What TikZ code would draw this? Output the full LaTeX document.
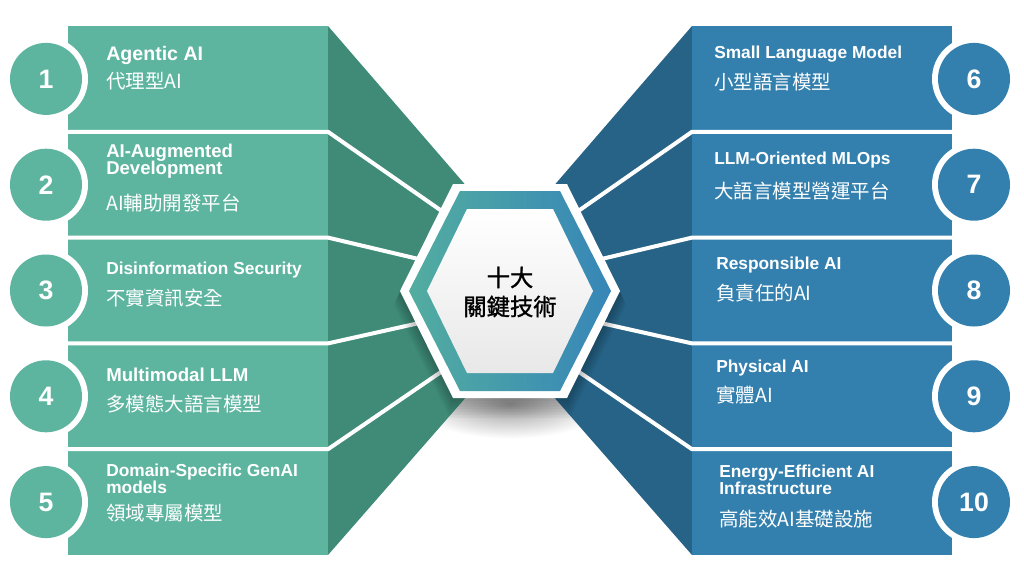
\documentclass[tikz,border=0pt]{standalone}
\usepackage{fontspec}
\setmainfont{Liberation Sans}
\newfontfamily\cjk{Noto Sans CJK TC}
\newfontfamily\cjkhead[FakeBold=1.2]{Noto Sans CJK TC}
\usetikzlibrary{positioning}

\definecolor{TealFront}{HTML}{5DB5A0}
\definecolor{TealSide}{HTML}{3F8B78}
\definecolor{BlueFront}{HTML}{3380AE}
\definecolor{BlueSide}{HTML}{276386}
\definecolor{RingLeft}{HTML}{52ADA0}
\definecolor{RingRight}{HTML}{3786B8}

\begin{document}
\begin{tikzpicture}[x=0.75pt,y=-0.75pt,
  title/.style={anchor=base west,inner sep=0pt,text=white,font=\bfseries\fontsize{13}{13}\selectfont},
  subtitle/.style={anchor=base west,inner sep=0pt,text=white!94,font=\cjk\fontsize{14.6}{16}\selectfont},
  number/.style={text=white,font=\bfseries\fontsize{20}{20}\selectfont},
  gap/.style={white,line width=3pt}]
\useasboundingbox (0,0) rectangle (1024,571);
\fill[white] (0,0) rectangle (1024,571);

% Locations
\coordinate (LeftVanish)  at (558,292);
\coordinate (RightVanish) at (462,292);
\def\Ring{circle (31.5pt)}
\def\Disc{circle (27pt)}
\def\Hexagon{(-110,0) -- (-57,-107) -- (57,-107) -- (110,0) -- (57,107) -- (-57,107) -- cycle}

% Shadow under the hexagon
\shade[inner color=black!40,outer color=white] (510,404) ellipse (72pt and 26pt);

% Left blocks
\fill[TealSide] (328,26) -- (LeftVanish) -- (328,555) -- cycle;
\fill[TealFront] (68,26) rectangle (328,555);
\draw[gap] (66,131.8) -- (328,131.8) -- (LeftVanish);
\draw[gap] (66,237.6) -- (328,237.6) -- (LeftVanish);
\draw[gap] (66,343.4) -- (328,343.4) -- (LeftVanish);
\draw[gap] (66,449.2) -- (328,449.2) -- (LeftVanish);

% Right blocks
\fill[BlueSide] (692,26) -- (RightVanish) -- (692,555) -- cycle;
\fill[BlueFront] (692,26) rectangle (952,555);
\draw[gap] (954,131.8) -- (692,131.8) -- (RightVanish);
\draw[gap] (954,237.6) -- (692,237.6) -- (RightVanish);
\draw[gap] (954,343.4) -- (692,343.4) -- (RightVanish);
\draw[gap] (954,449.2) -- (692,449.2) -- (RightVanish);

% Numbers
\fill[white] (46,78.9) \Ring;  \fill[TealFront] (46,78.9) \Disc node[number] (Num1) {1};
\fill[white] (46,184.7) \Ring; \fill[TealFront] (46,184.7) \Disc node[number] (Num2) {2};
\fill[white] (46,290.5) \Ring; \fill[TealFront] (46,290.5) \Disc node[number] (Num3) {3};
\fill[white] (46,396.3) \Ring; \fill[TealFront] (46,396.3) \Disc node[number] (Num4) {4};
\fill[white] (46,502.1) \Ring; \fill[TealFront] (46,502.1) \Disc node[number] (Num5) {5};
\fill[white] (974,78.9) \Ring;  \fill[BlueFront] (974,78.9) \Disc node[number] (Num6) {6};
\fill[white] (974,184.7) \Ring; \fill[BlueFront] (974,184.7) \Disc node[number] (Num7) {7};
\fill[white] (974,290.5) \Ring; \fill[BlueFront] (974,290.5) \Disc node[number] (Num8) {8};
\fill[white] (974,396.3) \Ring; \fill[BlueFront] (974,396.3) \Disc node[number] (Num9) {9};
\fill[white] (974,502.1) \Ring; \fill[BlueFront] (974,502.1) \Disc node[number] (Num10) {10};

% Texts, left
\path (106,60)  node[title,font=\bfseries\fontsize{14.7}{15}\selectfont] (Agentic) {Agentic AI}
      (106,88)  node[subtitle] (AgenticZh) {代理型AI};
\path (106,157) node[title,font=\bfseries\fontsize{13.9}{14}\selectfont] (Augmented) {AI-Augmented}
      (106,174) node[title,font=\bfseries\fontsize{13.9}{14}\selectfont] (Development) {Development}
      (106,210) node[subtitle] (AugmentedZh) {AI輔助開發平台};
\path (106,274) node[title] (Disinfo) {Disinformation Security}
      (106,305) node[subtitle] (DisinfoZh) {不實資訊安全};
\path (106,381) node[title,font=\bfseries\fontsize{14}{14}\selectfont] (Multimodal) {Multimodal LLM}
      (106,411) node[subtitle] (MultimodalZh) {多模態大語言模型};
\path (106,476) node[title] (Domain) {Domain-Specific GenAI}
      (106,493) node[title] (Models) {models}
      (106,520) node[subtitle] (DomainZh) {領域專屬模型};

% Texts, right
\path (714,58)  node[title] (Small) {Small Language Model}
      (714,89)  node[subtitle] (SmallZh) {小型語言模型};
\path (714,164) node[title] (MLOps) {LLM-Oriented MLOps}
      (714,198) node[subtitle] (MLOpsZh) {大語言模型營運平台};
\path (716,269) node[title] (Responsible) {Responsible AI}
      (716,300) node[subtitle] (ResponsibleZh) {負責任的AI};
\path (716,372) node[title] (Physical) {Physical AI}
      (716,402) node[subtitle] (PhysicalZh) {實體AI};
\path (719,477) node[title] (Energy) {Energy-Efficient AI}
      (719,494) node[title] (Infra) {Infrastructure}
      (719,526) node[subtitle] (EnergyZh) {高能效AI基礎設施};

% Centre hexagon, soft shadow first
\foreach \k in {2,4,...,14}
  \fill[black,opacity=0.035,shift={(510,291+\k)},scale=1+\k/250] \Hexagon;
\fill[white,shift={(510,291)}] \Hexagon;
\shade[left color=RingLeft,right color=RingRight]
      (409,291) -- (460,191) -- (560,191) -- (611,291) -- (560,391) -- (460,391) -- cycle;
\shade[top color=white,bottom color=black!9]
      (427,291) -- (467,209) -- (553,209) -- (593,291) -- (553,373) -- (467,373) -- cycle;
\node[align=center,font=\cjkhead\fontsize{17.5}{21.75}\selectfont] (Centre) at (510,292) {十大\\關鍵技術};

\end{tikzpicture}
\end{document}
